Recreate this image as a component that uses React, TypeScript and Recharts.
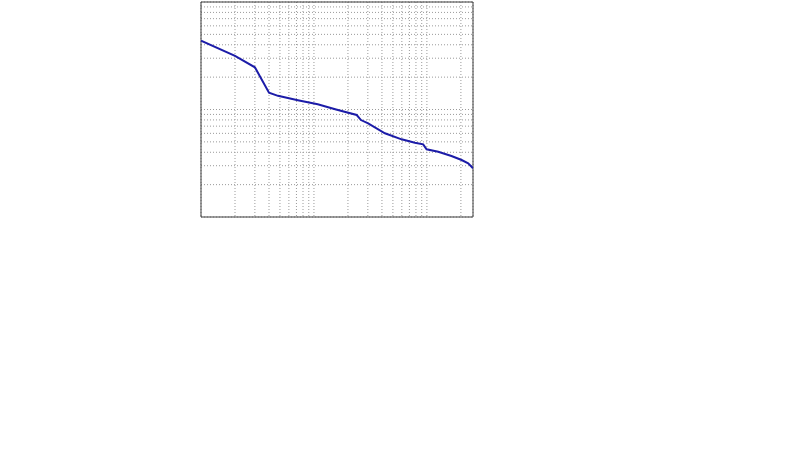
import React from "react";
import { LineChart, Line, XAxis, YAxis, CartesianGrid, ReferenceLine } from "recharts";

const xValues = [1, 2, 3, 4, 4.8, 7.2, 10.8, 15.7, 23.9, 26.1, 30.2, 42.5, 59.7, 78.3, 92.7, 99.4, 126, 165, 203, 232, 256];
const yValues = [4.37, 3.15, 2.47, 1.43, 1.34, 1.22, 1.12, 1.0, 0.889, 0.798, 0.744, 0.601, 0.528, 0.491, 0.474, 0.426, 0.405, 0.369, 0.339, 0.316, 0.284];

const xTicks = [1, 2, 3, 4, 5, 6, 7, 8, 9, 10, 20, 30, 40, 50, 60, 70, 80, 90, 100, 200];
const yTicks = [0.1, 0.2, 0.3, 0.4, 0.5, 0.6, 0.7, 0.8, 0.9, 1, 2, 3, 4, 5, 6, 7, 8, 9, 10];

const xDomain = [1, 256];
const yDomain = [0.1, 10];

const data = xValues.map((x, i) => ({ x, y: yValues[i] }));

const frameColor = "#3c3c3c";
const noTick = () => <g />;

export default function App() {
  return (
    <div style={{ position: "absolute", left: 0, top: 0 }}>
      <LineChart
        width={800}
        height={450}
        data={data}
        margin={{ top: 2, left: 201, right: 327, bottom: 233 }}
      >
        <XAxis
          dataKey="x"
          type="number"
          scale="log"
          domain={xDomain}
          ticks={xTicks}
          allowDataOverflow
          tick={noTick}
          tickLine={false}
          axisLine={false}
          height={0}
          interval={0}
        />
        <YAxis
          type="number"
          scale="log"
          domain={yDomain}
          ticks={yTicks}
          allowDataOverflow
          tick={noTick}
          tickLine={false}
          axisLine={false}
          width={0}
          interval={0}
        />
        <CartesianGrid stroke="#9a9a9a" strokeDasharray="1 2" />
        <ReferenceLine x={xDomain[0]} stroke={frameColor} strokeWidth={1} ifOverflow="visible" />
        <ReferenceLine x={xDomain[1]} stroke={frameColor} strokeWidth={1} ifOverflow="visible" />
        <ReferenceLine y={yDomain[0]} stroke={frameColor} strokeWidth={1} ifOverflow="visible" />
        <ReferenceLine y={yDomain[1]} stroke={frameColor} strokeWidth={1} ifOverflow="visible" />
        <Line
          type="linear"
          dataKey="y"
          stroke="#1c1ca8"
          strokeWidth={2}
          dot={false}
          isAnimationActive={false}
        />
      </LineChart>
    </div>
  );
}
